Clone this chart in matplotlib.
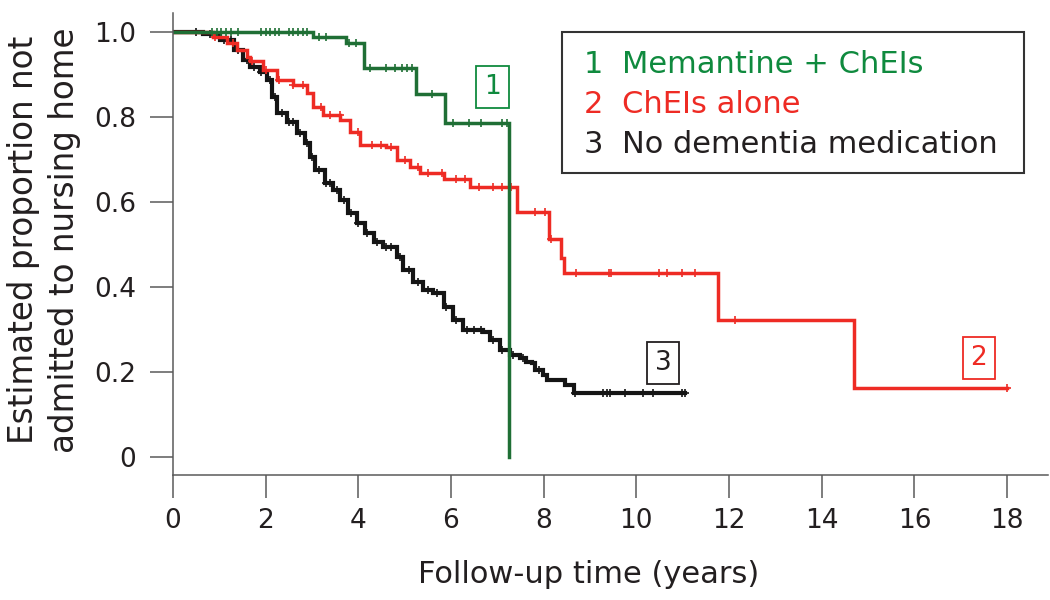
import matplotlib
matplotlib.use("Agg")
import matplotlib.pyplot as plt
import numpy as np
from matplotlib.patches import Rectangle

plt.rcParams['font.family'] = ['DejaVu Sans']

# Kaplan-Meier estimates (time in years, proportion)
green_t = [0, 3.03, 3.74, 4.12, 5.25, 5.88, 7.26]
green_s = [1.0, 0.988, 0.973, 0.914, 0.854, 0.786, 0.0]
green_cens = [0.85, 0.95, 1.05, 1.15, 1.25, 1.4, 1.9, 2.0, 2.1, 2.2, 2.3,
              2.5, 2.6, 2.7, 2.8, 2.9, 3.15, 3.3, 3.8, 3.95, 4.25, 4.6,
              4.8, 4.95, 5.05, 5.15, 5.6, 6.05, 6.4, 6.65, 7.1, 7.2]

red_t = [0, 0.59, 0.87, 1.16, 1.38, 1.59, 1.67, 1.95, 2.24, 2.60, 2.89,
         3.03, 3.25, 3.61, 3.82, 4.04, 4.61, 4.83, 5.12, 5.33, 5.85, 6.41,
         7.42, 8.12, 8.37, 8.43, 11.77, 14.70, 18.0]
red_s = [1.0, 1.0, 0.988, 0.973, 0.957, 0.940, 0.930, 0.910, 0.887, 0.875,
         0.855, 0.824, 0.804, 0.793, 0.765, 0.734, 0.728, 0.699, 0.683,
         0.667, 0.654, 0.636, 0.577, 0.512, 0.468, 0.432, 0.323, 0.162,
         0.162]
red_cens = [0.9, 1.3, 1.7, 2.0, 2.3, 2.6, 2.8, 3.2, 3.4, 3.6, 4.0, 4.3, 4.5,
            4.7, 5.0, 5.3, 5.5, 5.8, 6.1, 6.3, 6.6, 6.9, 7.1, 7.3, 7.81,
            8.03, 8.15, 8.70, 9.40, 9.45, 10.50, 10.66, 10.98, 11.27, 12.13,
            18.0]

black_t = [0, 0.37, 0.66, 1.02, 1.31, 1.52, 1.67, 1.88, 2.03, 2.13, 2.24,
           2.46, 2.67, 2.85, 2.96, 3.07, 3.28, 3.46, 3.61, 3.79, 3.97, 4.15,
           4.33, 4.54, 4.83, 4.97, 5.19, 5.40, 5.62, 5.84, 6.05, 6.27, 6.70,
           6.84, 7.06, 7.27, 7.49, 7.63, 7.74, 7.81, 7.99, 8.07, 8.46, 8.66,
           11.05]
black_s = [1.0, 1.0, 0.995, 0.980, 0.957, 0.933, 0.918, 0.906, 0.887, 0.847,
           0.808, 0.789, 0.761, 0.738, 0.706, 0.675, 0.644, 0.628, 0.605,
           0.573, 0.550, 0.526, 0.507, 0.495, 0.471, 0.440, 0.413, 0.393,
           0.385, 0.354, 0.323, 0.299, 0.295, 0.276, 0.252, 0.240, 0.233,
           0.225, 0.221, 0.205, 0.193, 0.182, 0.170, 0.150, 0.150]
black_cens = [0.5, 0.8, 1.1, 1.25, 1.4, 1.6, 1.75, 1.9, 2.1, 2.2, 2.35, 2.5,
              2.6, 2.75, 2.9, 3.0, 3.15, 3.3, 3.4, 3.55, 3.7, 3.85, 4.0,
              4.2, 4.4, 4.6, 4.7, 4.9, 5.1, 5.3, 5.5, 5.7, 5.9, 6.1, 6.35,
              6.5, 6.65, 6.9, 7.1, 7.35, 7.55, 7.9, 8.68, 9.29, 9.36, 9.43,
              9.76, 10.15, 10.37, 10.98, 11.05]

group_names = ['Memantine + ChEIs', 'ChEIs alone', 'No dementia medication']
group_nums = ['1', '2', '3']
x_ticks = list(range(0, 19, 2))
y_ticks = [0, 0.2, 0.4, 0.6, 0.8, 1.0]
y_ticklabels = ['0', '0.2', '0.4', '0.6', '0.8', '1.0']

GREEN = '#1f6f35'
GREEN_TXT = '#0f8a3e'
RED = '#ee2b24'
BLACK = '#151515'
AXIS = '#5a5a5a'
TXT = '#231f20'


def step_value(t, s, c):
    """value of the step curve at censoring times"""
    idx = np.searchsorted(t, c, side='right') - 1
    return np.asarray(s)[idx]


fig = plt.figure(figsize=(10.5, 6), dpi=100)
ax = fig.add_axes([0.1646, 0.2083, 0.8334, 0.7705])

curves = [
    (black_t, black_s, black_cens, BLACK, 3.0),
    (red_t, red_s, red_cens, RED, 2.5),
    (green_t, green_s, green_cens, GREEN, 2.5),
]
for t, s, cens, col, lw in curves:
    ax.plot(t, s, drawstyle='steps-post', color=col, lw=lw,
            solid_joinstyle='miter')
    ax.plot(cens, step_value(t, s, cens), ls='none', marker='+',
            ms=6, mew=1.2, color=col)

# numbered boxes at the ends of the curves
box_labels = [('1', 6.90, 0.870, GREEN_TXT),
              ('2', 17.39, 0.233, RED),
              ('3', 10.58, 0.222, TXT)]
for num, bx, by, col in box_labels:
    ax.text(bx, by, num, color=col, fontsize=19, ha='center', va='center',
            bbox=dict(boxstyle='square,pad=0.3', fc='white', ec=col, lw=1.3))

ax.set_xlim(0, 18.88)
ax.set_ylim(-0.0416, 1.0446)
ax.set_xticks(x_ticks)
ax.set_yticks(y_ticks)
ax.set_yticklabels(y_ticklabels)

for side in ['top', 'right']:
    ax.spines[side].set_visible(False)
for side in ['left', 'bottom']:
    ax.spines[side].set_color(AXIS)
    ax.spines[side].set_linewidth(1.1)
ax.tick_params(axis='both', direction='out', length=16.6, width=1.1,
               color=AXIS, labelsize=19, labelcolor=TXT)
ax.tick_params(axis='x', pad=7)
ax.tick_params(axis='y', pad=10)

# legend box
fig.patches.append(Rectangle((0.5352, 0.7117), 0.44, 0.235,
                             transform=fig.transFigure, fill=False,
                             ec='#333333', lw=1.5))
leg_cols = [GREEN_TXT, RED, TXT]
leg_y = [0.8778, 0.8112, 0.7445]
for num, name, col, yy in zip(group_nums, group_names, leg_cols, leg_y):
    fig.text(0.5556, yy, num, color=col, fontsize=22, va='baseline')
    fig.text(0.592, yy, name, color=col, fontsize=22, va='baseline')

fig.text(0.042, 0.6, 'Estimated proportion not\nadmitted to nursing home',
         rotation=90, ha='center', va='center', fontsize=23.5,
         linespacing=1.3, color=TXT)
fig.text(0.561, 0.028, 'Follow-up time (years)', ha='center',
         va='baseline', fontsize=22, color=TXT)

fig.savefig('out.png', dpi=100)
